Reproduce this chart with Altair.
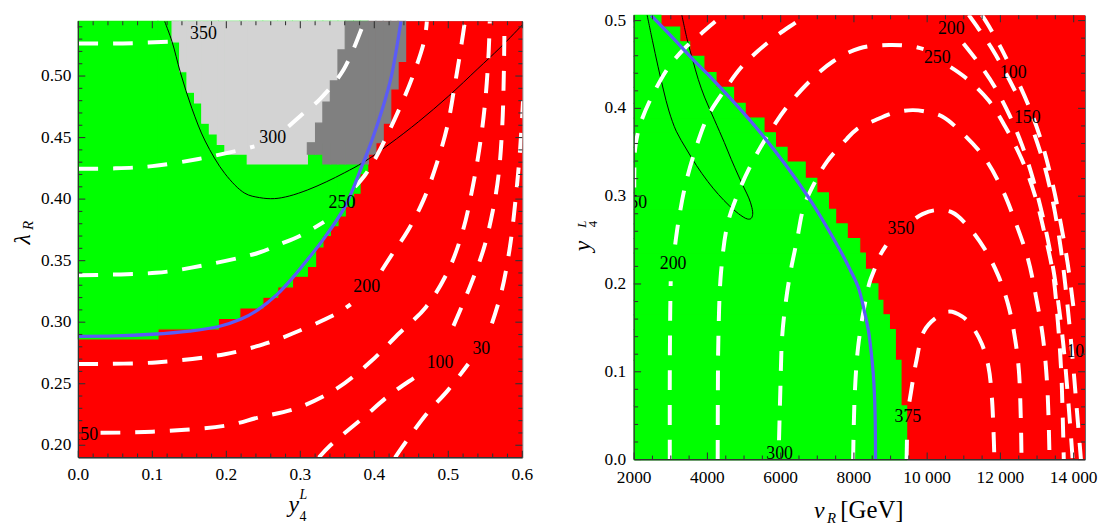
import altair as alt
import pandas as pd

FONT = "Liberation Serif"

# ======================= LEFT PANEL DATA =======================
L_XDOM = [0.0, 0.6]
L_YDOM = [0.19, 0.5445]
L_XMAJOR = [0.0, 0.1, 0.2, 0.3, 0.4, 0.5, 0.6]
L_XLABELS = ["0.0", "0.1", "0.2", "0.3", "0.4", "0.5", "0.6"]
L_XMINOR = [0.02, 0.04, 0.06, 0.08, 0.12, 0.14, 0.16, 0.18, 0.22, 0.24, 0.26, 0.28,
            0.32, 0.34, 0.36, 0.38, 0.42, 0.44, 0.46, 0.48, 0.52, 0.54, 0.56, 0.58]
L_YMAJOR = [0.20, 0.25, 0.30, 0.35, 0.40, 0.45, 0.50]
L_YLABELS = ["0.20", "0.25", "0.30", "0.35", "0.40", "0.45", "0.50"]
L_YMINOR = [0.21, 0.22, 0.23, 0.24, 0.26, 0.27, 0.28, 0.29, 0.31, 0.32, 0.33, 0.34,
            0.36, 0.37, 0.38, 0.39, 0.41, 0.42, 0.43, 0.44, 0.46, 0.47, 0.48, 0.49,
            0.51, 0.52, 0.53, 0.54]

# allowed (green) region: columns x0..x1 from y0 to the top
L_GREEN_X0 = [0.0, 0.1076, 0.1892, 0.2182, 0.2493, 0.2694, 0.2894, 0.3095, 0.3206, 0.3305, 0.3406, 0.3509, 0.3607, 0.3719, 0.3807]
L_GREEN_X1 = [0.1076, 0.1892, 0.2182, 0.2493, 0.2694, 0.2894, 0.3095, 0.3206, 0.3305, 0.3406, 0.3509, 0.3607, 0.3719, 0.3807, 0.3910]
L_GREEN_Y0 = [0.2864, 0.2946, 0.3031, 0.3116, 0.3203, 0.3287, 0.3374, 0.3454, 0.3612, 0.3705, 0.3784, 0.3863, 0.3942, 0.4048, 0.4207]
L_GREEN_Y1 = [0.5445] * 15

# light gray region
L_LGRAY_X0 = [0.1267, 0.1370, 0.1468, 0.1571, 0.1668, 0.1771, 0.1878, 0.1981, 0.2283, 0.3095]
L_LGRAY_X1 = [0.1370, 0.1468, 0.1571, 0.1668, 0.1771, 0.1878, 0.1981, 0.2283, 0.3095, 0.3607]
L_LGRAY_Y0 = [0.5278, 0.5035, 0.4868, 0.4781, 0.4617, 0.4530, 0.4445, 0.4366, 0.4286, 0.4458]
L_LGRAY_Y1 = [0.5445] * 10

# dark gray region
L_DGRAY_X0 = [0.3095, 0.3206, 0.3305, 0.3406, 0.3509, 0.3607, 0.3920, 0.4021, 0.4120, 0.4222, 0.4321]
L_DGRAY_X1 = [0.3206, 0.3305, 0.3406, 0.3509, 0.3607, 0.3920, 0.4021, 0.4120, 0.4222, 0.4321, 0.4423]
L_DGRAY_Y0 = [0.4366, 0.4366, 0.4286, 0.4286, 0.4286, 0.4286, 0.4366, 0.4458, 0.4617, 0.4895, 0.5119]
L_DGRAY_Y1 = [0.4458, 0.4617, 0.4789, 0.4960, 0.5212, 0.5445, 0.5445, 0.5445, 0.5445, 0.5445, 0.5445]

L_BLUE = [(0.0, 0.2885), (0.05, 0.2888), (0.10, 0.2902), (0.15, 0.2928), (0.19, 0.2965),
          (0.22, 0.3025), (0.2426, 0.3100), (0.2694, 0.3230), (0.2894, 0.3360), (0.3006, 0.3441),
          (0.3318, 0.3679), (0.3607, 0.3943), (0.3844, 0.4286), (0.3964, 0.4472), (0.4111, 0.4736),
          (0.4231, 0.5000), (0.4312, 0.5264), (0.4360, 0.5445)]

L_BLACK = [(0.1166, 0.5445), (0.1267, 0.5278), (0.138, 0.5027), (0.1535, 0.4736), (0.1714, 0.4472),
           (0.1981, 0.4207), (0.2249, 0.4048), (0.245, 0.4012), (0.265, 0.4004), (0.285, 0.4025),
           (0.31, 0.4075), (0.335, 0.4140), (0.36, 0.4215), (0.3853, 0.4299), (0.42, 0.4445),
           (0.46, 0.463), (0.50, 0.4835), (0.54, 0.506), (0.57, 0.523), (0.60, 0.5415)]

L_C350 = [[(0.0, 0.5265), (0.06, 0.5265), (0.125, 0.528)]]
L_C300 = [[(0.0, 0.4247), (0.05, 0.4250), (0.10, 0.4268), (0.1624, 0.4326), (0.2136, 0.4392), (0.238, 0.4428)],
          [(0.284, 0.459), (0.30, 0.4675), (0.327, 0.4815), (0.3586, 0.5053), (0.3853, 0.5423), (0.3868, 0.5445)]]
L_C250 = [[(0.0, 0.3382), (0.1045, 0.3401), (0.153, 0.3443), (0.2426, 0.3562), (0.2694, 0.3626), (0.3006, 0.3705), (0.332, 0.3815)],
          [(0.374, 0.410), (0.388, 0.420), (0.405, 0.437), (0.434, 0.4736), (0.4521, 0.50), (0.4677, 0.5291), (0.471, 0.5445)]]
L_C200 = [[(0.0, 0.266), (0.1045, 0.2673), (0.198, 0.274), (0.2426, 0.2807), (0.2694, 0.2859), (0.3496, 0.3071), (0.368, 0.3145)],
          [(0.410, 0.342), (0.425, 0.356), (0.445, 0.374), (0.467, 0.400), (0.485, 0.430), (0.499, 0.460), (0.508, 0.490), (0.515, 0.515), (0.5225, 0.5445)]]
L_C150 = [[(0.03, 0.2101), (0.1, 0.211), (0.2, 0.216), (0.2426, 0.2224), (0.296, 0.2303), (0.3496, 0.2462), (0.394, 0.2674),
           (0.434, 0.2912), (0.47, 0.3124), (0.50, 0.342), (0.52, 0.375), (0.533, 0.41), (0.543, 0.445), (0.550, 0.48),
           (0.5546, 0.52), (0.556, 0.5445)]]
L_C100 = [[(0.325, 0.19), (0.3407, 0.20), (0.385, 0.2224), (0.421, 0.241), (0.4588, 0.2569), (0.469, 0.2615)],
          [(0.507, 0.297), (0.53, 0.33), (0.548, 0.36), (0.56, 0.39), (0.568, 0.42), (0.573, 0.46), (0.575, 0.50), (0.576, 0.5445)]]
L_C30 = [[(0.428, 0.19), (0.441, 0.2013), (0.47, 0.225), (0.50, 0.245), (0.527, 0.266)],
         [(0.559, 0.299), (0.572, 0.325), (0.583, 0.36), (0.591, 0.40), (0.597, 0.44), (0.601, 0.48)]]

L_LABEL_TEXT = ["350", "300", "250", "200", "150", "100", "30"]
L_LABEL_X = [0.1691, 0.2627, 0.3563, 0.3897, 0.0087, 0.4889, 0.5446]
L_LABEL_Y = [0.5338, 0.4497, 0.3970, 0.3289, 0.2085, 0.2667, 0.2785]

# ======================= RIGHT PANEL DATA =======================
R_XDOM = [2000, 14310]
R_YDOM = [0.0, 0.506]
R_XMAJOR = [2000, 4000, 6000, 8000, 10000, 12000, 14000]
R_XLABELS = ["2000", "4000", "6000", "8000", "10 000", "12 000", "14 000"]
R_XMINOR = [2500, 3000, 3500, 4500, 5000, 5500, 6500, 7000, 7500, 8500, 9000, 9500,
            10500, 11000, 11500, 12500, 13000, 13500]
R_YMAJOR = [0.0, 0.1, 0.2, 0.3, 0.4, 0.5]
R_YLABELS = ["0.0", "0.1", "0.2", "0.3", "0.4", "0.5"]
R_YMINOR = [0.02, 0.04, 0.06, 0.08, 0.12, 0.14, 0.16, 0.18, 0.22, 0.24, 0.26, 0.28,
            0.32, 0.34, 0.36, 0.38, 0.42, 0.44, 0.46, 0.48]

# allowed (green) region: rows y0..y1 from v=2000 to v1
R_GREEN_Y0 = [0.4926, 0.4759, 0.4592, 0.4407, 0.4240, 0.4056, 0.3889, 0.3722, 0.3556, 0.3389, 0.3203, 0.3037,
              0.2851, 0.2684, 0.2518, 0.2351, 0.2167, 0.2000, 0.1814, 0.1648, 0.1481, 0.1129, 0.0611, 0.0]
R_GREEN_Y1 = [0.506, 0.4926, 0.4759, 0.4592, 0.4407, 0.4240, 0.4056, 0.3889, 0.3722, 0.3556, 0.3389, 0.3203,
              0.3037, 0.2851, 0.2684, 0.2518, 0.2351, 0.2167, 0.2000, 0.1814, 0.1648, 0.1481, 0.1129, 0.0611]
R_GREEN_V1 = [2730, 3244, 3515, 3902, 4234, 4713, 5030, 5544, 5857, 6174, 6669, 6986,
              7302, 7500, 7816, 8157, 8311, 8473, 8654, 8790, 8968, 9130, 9285, 9439]
R_GREEN_V0 = [2000] * 24

R_BLUE = [(2460, 0.506), (3017, 0.482), (3739, 0.450), (4099, 0.4351), (5450, 0.3722), (6710, 0.3018),
          (7616, 0.2389), (7900, 0.2160), (8121, 0.1960), (8280, 0.1700), (8392, 0.1480), (8470, 0.1230),
          (8528, 0.0980), (8565, 0.0700), (8582, 0.0426), (8590, 0.0)]

R_BLACK = [(2341, 0.509), (2500, 0.477), (2650, 0.448), (2800, 0.421), (2950, 0.397), (3150, 0.374),
           (3425, 0.3537), (3700, 0.335), (4010, 0.3167), (4300, 0.302), (4600, 0.289), (4850, 0.280),
           (5092, 0.274), (5190, 0.2745), (5235, 0.279), (5215, 0.287), (5130, 0.298), (5003, 0.3092),
           (4850, 0.323), (4650, 0.342), (4462, 0.3611), (4191, 0.387), (3921, 0.4129), (3750, 0.433),
           (3600, 0.455), (3450, 0.478), (3288, 0.509)]

R_C150 = [[(2003, 0.310), (2026, 0.3536), (2100, 0.372), (2207, 0.387), (2477, 0.4129), (2928, 0.4462),
           (3379, 0.4685), (3830, 0.4851), (4190, 0.4981), (4450, 0.5065)],
          [(11133, 0.5065), (11403, 0.4907), (11800, 0.466), (12200, 0.436), (12540, 0.408)],
          [(12930, 0.370), (13200, 0.335), (13450, 0.29), (13650, 0.24), (13820, 0.18), (13960, 0.12),
           (14080, 0.06), (14199, 0.0)]]
R_C200 = [[(2973, 0.0), (2973, 0.10), (2985, 0.170), (2998, 0.203)],
          [(3120, 0.245), (3199, 0.2685), (3379, 0.3092), (3649, 0.35), (4010, 0.3907), (4461, 0.4203),
           (4912, 0.4462), (5363, 0.4648), (5904, 0.4833), (6535, 0.5018), (6650, 0.5065)],
          [(10990, 0.474), (11400, 0.452), (11850, 0.424), (12250, 0.392), (12600, 0.357), (12900, 0.318),
           (13150, 0.278), (13380, 0.232), (13560, 0.185), (13720, 0.130), (13850, 0.068), (13973, 0.0)]]
R_C250 = [[(4281, 0.0), (4285, 0.07), (4300, 0.1389), (4371, 0.2129), (4551, 0.2684), (4822, 0.3018),
           (5182, 0.3351), (5633, 0.3685), (6174, 0.4018), (6805, 0.4314), (7437, 0.4537), (8158, 0.4685),
           (8969, 0.4722), (9600, 0.4705), (9900, 0.4675)],
          [(10640, 0.447), (11043, 0.4351), (11674, 0.4092), (12125, 0.3796), (12576, 0.3426), (12936, 0.3018),
           (13207, 0.2573), (13432, 0.2129), (13567, 0.1574), (13658, 0.1018), (13703, 0.0462), (13730, 0.0)]]
R_C300 = [[(5955, 0.022), (5994, 0.0833), (6039, 0.1389), (6129, 0.1759), (6264, 0.2129), (6445, 0.2499),
           (6625, 0.287), (6896, 0.3129), (7256, 0.3388), (7797, 0.3648), (8067, 0.3759), (8608, 0.387),
           (9100, 0.395), (9600, 0.398), (10000, 0.396), (10411, 0.3907), (11043, 0.3685), (11584, 0.3426),
           (12034, 0.3092), (12395, 0.2722), (12756, 0.2278), (12981, 0.1833), (13161, 0.1389), (13279, 0.0833),
           (13342, 0.0)]]
R_C350 = [[(7978, 0.0), (8021, 0.0722), (8113, 0.1278), (8292, 0.1759), (8428, 0.2018), (8562, 0.2167),
           (8698, 0.2314), (8880, 0.244)],
          [(9690, 0.275), (9870, 0.2796), (10231, 0.284), (10682, 0.2815), (11133, 0.2648), (11584, 0.2389),
           (11944, 0.2092), (12215, 0.1759), (12395, 0.1389), (12503, 0.1018), (12557, 0.0462), (12576, 0.0)]]
R_C375 = [[(9438, 0.0), (9452, 0.03)],
          [(9515, 0.066), (9555, 0.0759), (9690, 0.1092), (9916, 0.1463), (10231, 0.1611), (10592, 0.1685),
           (10953, 0.1630), (11223, 0.1518), (11494, 0.1315), (11674, 0.1056), (11764, 0.0722), (11809, 0.0352),
           (11836, 0.0)]]
R_C100 = [[(11493, 0.5065), (11674, 0.4944), (12000, 0.470), (12170, 0.456)],
          [(12540, 0.425), (12800, 0.400), (13100, 0.365), (13380, 0.322), (13620, 0.275), (13830, 0.225),
           (13990, 0.175)]]

R_LABEL_TEXT = ["250", "200", "300", "350", "375", "200", "250", "100", "150", "100"]
R_LABEL_X = [1990, 3063, 5971, 9285, 9474, 10659, 10277, 12350, 12734, 14167]
R_LABEL_Y = [0.2926, 0.2222, 0.0064, 0.2629, 0.0481, 0.4907, 0.4573, 0.4407, 0.3889, 0.122]

# ======================= COLORS / SIZES =======================
RED = "#ff0000"
GREEN = "#00ff00"
LGRAY = "#d3d3d3"
DGRAY = "#808080"
BLUE = "#5b5bf6"
TICK = "#333333"
TICKFONT = 17.5

W_L, H_L = 448, 440.3
W_R, H_R = 455, 448.3
TOP_SHIFT = 3.2


def seg_df(segments):
    rows = []
    for s, seg in enumerate(segments):
        for i, (x, y) in enumerate(seg):
            rows.append({"x": x, "y": y, "seg": s, "i": i})
    return pd.DataFrame(rows)


def rect_layer(x0, x1, y0, y1, color, xs, ys):
    df = pd.DataFrame({"x0": x0, "x1": x1, "y0": y0, "y1": y1})
    return alt.Chart(df).mark_rect(color=color, stroke=color, strokeWidth=1.2).encode(
        x=alt.X("x0:Q", scale=xs, axis=None), x2="x1:Q",
        y=alt.Y("y0:Q", scale=ys, axis=None), y2="y1:Q")


def line_layer(segments, xs, ys, color, width, dash=None):
    kw = dict(color=color, strokeWidth=width, clip=True, interpolate="catmull-rom")
    if dash is not None:
        kw["strokeDash"] = dash
    return alt.Chart(seg_df(segments)).mark_line(**kw).encode(
        x=alt.X("x:Q", scale=xs, axis=None),
        y=alt.Y("y:Q", scale=ys, axis=None),
        detail="seg:N", order="i:Q")


def label_layer(texts, xv, yv, xs, ys):
    df = pd.DataFrame({"t": texts, "x": xv, "y": yv})
    return alt.Chart(df).mark_text(font=FONT, fontSize=18, color="black", clip=True,
                                   align="center", baseline="middle").encode(
        x=alt.X("x:Q", scale=xs, axis=None), y=alt.Y("y:Q", scale=ys, axis=None), text="t:N")


def frame_layers(xdom, ydom, xmaj, xmin, ymaj, ymin, xlab, ylab, xs, ys, W, H, xdy, ydx):
    """inward ticks on all four sides, left/bottom axis lines and tick labels"""
    out = []
    xspan = xdom[1] - xdom[0]
    yspan = ydom[1] - ydom[0]
    for vals, ln in ((xmaj, 7), (xmin, 4)):
        d = yspan * ln / H
        df = pd.DataFrame({"v": vals, "b0": [ydom[0]] * len(vals), "b1": [ydom[0] + d] * len(vals),
                           "t0": [ydom[1]] * len(vals), "t1": [ydom[1] - d] * len(vals)})
        base = alt.Chart(df).mark_rule(color=TICK, strokeWidth=1.1)
        out.append(base.encode(x=alt.X("v:Q", scale=xs, axis=None),
                               y=alt.Y("b0:Q", scale=ys, axis=None), y2="b1:Q"))
        out.append(base.encode(x=alt.X("v:Q", scale=xs, axis=None),
                               y=alt.Y("t0:Q", scale=ys, axis=None), y2="t1:Q"))
    for vals, ln in ((ymaj, 7), (ymin, 4)):
        d = xspan * ln / W
        df = pd.DataFrame({"v": vals, "l0": [xdom[0]] * len(vals), "l1": [xdom[0] + d] * len(vals),
                           "r0": [xdom[1]] * len(vals), "r1": [xdom[1] - d] * len(vals)})
        base = alt.Chart(df).mark_rule(color=TICK, strokeWidth=1.1)
        out.append(base.encode(y=alt.Y("v:Q", scale=ys, axis=None),
                               x=alt.X("l0:Q", scale=xs, axis=None), x2="l1:Q"))
        out.append(base.encode(y=alt.Y("v:Q", scale=ys, axis=None),
                               x=alt.X("r0:Q", scale=xs, axis=None), x2="r1:Q"))
    # left and bottom axis lines
    edge = pd.DataFrame({"x0": [xdom[0]], "x1": [xdom[1]], "y0": [ydom[0]], "y1": [ydom[1]]})
    out.append(alt.Chart(edge).mark_rule(color=TICK, strokeWidth=1.3).encode(
        x=alt.X("x0:Q", scale=xs, axis=None), y=alt.Y("y0:Q", scale=ys, axis=None), y2="y1:Q"))
    out.append(alt.Chart(edge).mark_rule(color=TICK, strokeWidth=1.3).encode(
        x=alt.X("x0:Q", scale=xs, axis=None), x2="x1:Q", y=alt.Y("y0:Q", scale=ys, axis=None)))
    # tick labels
    dfx = pd.DataFrame({"v": xmaj, "t": xlab, "b": [ydom[0]] * len(xmaj)})
    out.append(alt.Chart(dfx).mark_text(font=FONT, fontSize=TICKFONT, color="black", align="center",
                                        baseline="middle", dy=xdy).encode(
        x=alt.X("v:Q", scale=xs, axis=None), y=alt.Y("b:Q", scale=ys, axis=None), text="t:N"))
    dfy = pd.DataFrame({"v": ymaj, "t": ylab, "l": [xdom[0]] * len(ymaj)})
    out.append(alt.Chart(dfy).mark_text(font=FONT, fontSize=TICKFONT, color="black", align="right",
                                        baseline="middle", dx=-ydx).encode(
        y=alt.Y("v:Q", scale=ys, axis=None), x=alt.X("l:Q", scale=xs, axis=None), text="t:N"))
    return out


def ptext(text, x, y, size, angle=0, italic=True, align="center"):
    kw = dict(text=text, font=FONT, fontSize=size, color="black", align=align, baseline="alphabetic")
    if italic:
        kw["fontStyle"] = "italic"
    if angle:
        kw["angle"] = angle
    return alt.Chart(pd.DataFrame({"a": [0]})).mark_text(**kw).encode(x=alt.value(x), y=alt.value(y))


def background(xdom, ydom, xs, ys):
    df = pd.DataFrame({"x0": [xdom[0]], "x1": [xdom[1]], "y0": [ydom[0]], "y1": [ydom[1]]})
    return alt.Chart(df).mark_rect(color=RED).encode(
        x=alt.X("x0:Q", scale=xs, axis=None), x2="x1:Q",
        y=alt.Y("y0:Q", scale=ys, axis=None), y2="y1:Q")


# ======================= LEFT CHART =======================
xsL = alt.Scale(domain=L_XDOM, nice=False, zero=False)
ysL = alt.Scale(domain=L_YDOM, nice=False, zero=False)

left_layers = [
    background(L_XDOM, L_YDOM, xsL, ysL),
    rect_layer(L_GREEN_X0, L_GREEN_X1, L_GREEN_Y0, L_GREEN_Y1, GREEN, xsL, ysL),
    rect_layer(L_LGRAY_X0, L_LGRAY_X1, L_LGRAY_Y0, L_LGRAY_Y1, LGRAY, xsL, ysL),
    rect_layer(L_DGRAY_X0, L_DGRAY_X1, L_DGRAY_Y0, L_DGRAY_Y1, DGRAY, xsL, ysL),
    line_layer([L_BLACK], xsL, ysL, "black", 1),
    line_layer(L_C350 + L_C300 + L_C250 + L_C200 + L_C150 + L_C100 + L_C30, xsL, ysL, "white", 4, [20, 15]),
    line_layer([L_BLUE], xsL, ysL, BLUE, 3.3),
    label_layer(L_LABEL_TEXT, L_LABEL_X, L_LABEL_Y, xsL, ysL),
] + frame_layers(L_XDOM, L_YDOM, L_XMAJOR, L_XMINOR, L_YMAJOR, L_YMINOR, L_XLABELS, L_YLABELS,
                 xsL, ysL, W_L, H_L, 17.5, 7) + [
    ptext("λ", -49, 0.5 * H_L, 24, angle=270),
    ptext("R", -45.5, 0.5 * H_L - 14, 15, angle=270),
    ptext("y", 0.485 * W_L, H_L + 55, 24),
    ptext("L", 0.485 * W_L + 6, H_L + 41.5, 14, align="left"),
    ptext("4", 0.485 * W_L + 6, H_L + 64, 14, italic=False, align="left"),
]

left = alt.layer(*left_layers).properties(width=W_L, height=H_L)

# empty strip that lowers the left panel relative to the right one
spacer = alt.Chart(pd.DataFrame({"a": [0]})).mark_rect(opacity=0).encode(
    x=alt.value(0), x2=alt.value(1), y=alt.value(0), y2=alt.value(1)
).properties(width=W_L, height=TOP_SHIFT, view=alt.ViewBackground(stroke="transparent"))

left_col = alt.vconcat(spacer, left, spacing=0)

# ======================= RIGHT CHART =======================
xsR = alt.Scale(domain=R_XDOM, nice=False, zero=False)
ysR = alt.Scale(domain=R_YDOM, nice=False, zero=False)

right_layers = [
    background(R_XDOM, R_YDOM, xsR, ysR),
    rect_layer(R_GREEN_V0, R_GREEN_V1, R_GREEN_Y0, R_GREEN_Y1, GREEN, xsR, ysR),
    line_layer([R_BLACK], xsR, ysR, "black", 1),
    line_layer(R_C150 + R_C200 + R_C250 + R_C300 + R_C350 + R_C375 + R_C100, xsR, ysR, "white", 4, [20, 15]),
    line_layer([R_BLUE], xsR, ysR, BLUE, 3.3),
    label_layer(R_LABEL_TEXT, R_LABEL_X, R_LABEL_Y, xsR, ysR),
] + frame_layers(R_XDOM, R_YDOM, R_XMAJOR, R_XMINOR, R_YMAJOR, R_YMINOR, R_XLABELS, R_YLABELS,
                 xsR, ysR, W_R, H_R, 19, 8) + [
    ptext("y", -44.3, 0.519 * H_R, 24, angle=270),
    ptext("L", -48.5, 0.47 * H_R, 13, angle=270),
    ptext("4", -37, 0.47 * H_R, 13, angle=270, italic=False),
    ptext("v", 186.8, H_R + 58.7, 24),
    ptext("R", 199.3, H_R + 63.7, 15),
    ptext("[GeV]", 208, H_R + 58.7, 25, italic=False, align="left"),
]

right = alt.layer(*right_layers).properties(width=W_R, height=H_R)

chart = alt.hconcat(left_col, right, spacing=36.9).properties(
    padding={"left": 2, "top": 0, "right": 0, "bottom": 0},
    background="white",
).configure_view(stroke="#666666", strokeWidth=1)

chart.save("out.html", embed_options={"renderer": "svg", "actions": False})
